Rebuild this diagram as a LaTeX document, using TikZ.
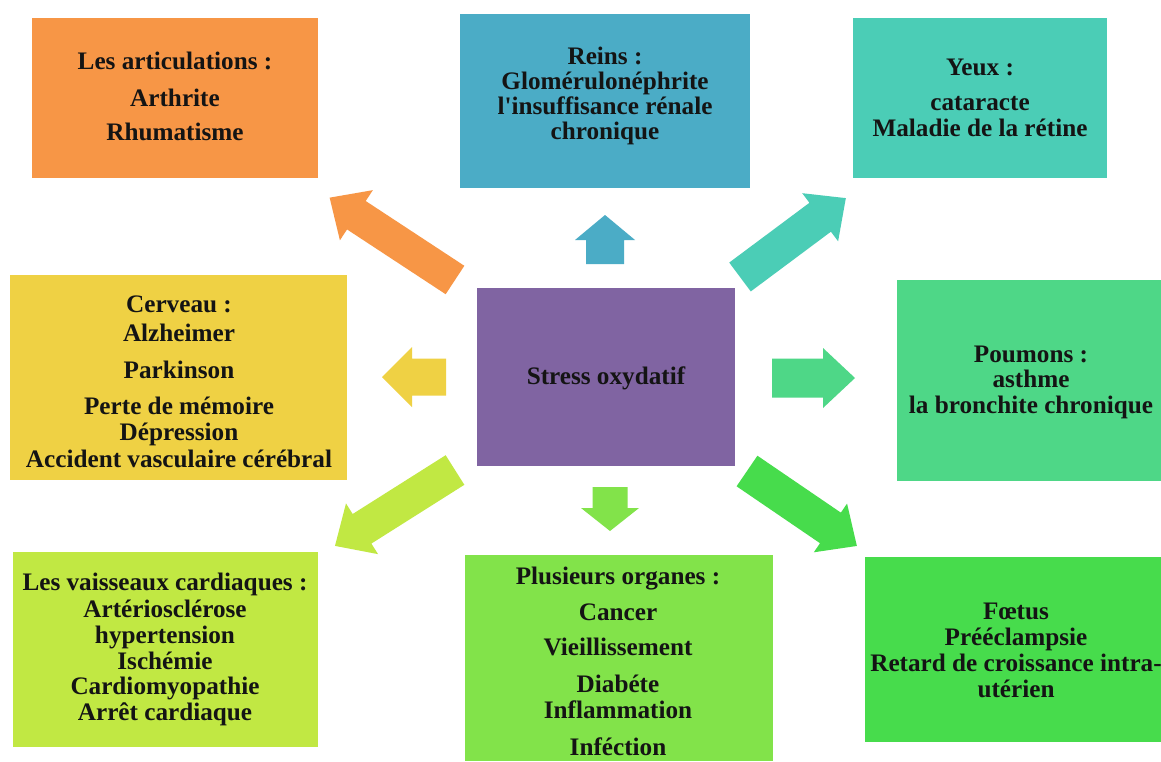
\documentclass[tikz,border=0pt]{standalone}
\usepackage{fontspec}
\setmainfont{Liberation Serif}[Ligatures=TeXOff]
\definecolor{cOrange}{HTML}{F79646}
\definecolor{cBlue}{HTML}{4BACC6}
\definecolor{cTeal}{HTML}{4BCDB6}
\definecolor{cYellow}{HTML}{EFD144}
\definecolor{cPurple}{HTML}{8064A2}
\definecolor{cSea}{HTML}{4ED787}
\definecolor{cLime}{HTML}{C1E843}
\definecolor{cLight}{HTML}{82E34A}
\definecolor{cGreen}{HTML}{47DC4C}
\definecolor{cText}{HTML}{141414}
\tikzset{
  box/.style={rectangle, draw=none, inner sep=0pt, outer sep=0pt},
  txt/.style={font=\fontsize{25.2}{26}\selectfont\bfseries, text=cText, inner sep=0pt, anchor=base},
}
% #1,#2 tail centre, #3 angle, #4 length, #5 shaft width, #6 head width, #7 head length, #8 colour
\newcommand\blkarrow[8]{%
  \begin{scope}[shift={(#1,#2)},rotate=#3]
    \fill[#8] (0,{-#5/2}) -- ({#4-#7},{-#5/2}) -- ({#4-#7},{-#6/2}) -- (#4,0)
      -- ({#4-#7},{#6/2}) -- ({#4-#7},{#5/2}) -- (0,{#5/2}) -- cycle;
  \end{scope}}
\begin{document}
\begin{tikzpicture}[x=1pt,y=-1pt]
\useasboundingbox (0,0) rectangle (1161,761);
\fill[white] (0,0) rectangle (1161,761);

% boxes
\node[box, fill=cOrange, minimum width=286, minimum height=160] (art) at (175,98) {};
\node[box, fill=cBlue, minimum width=290, minimum height=174] (rein) at (605,101) {};
\node[box, fill=cTeal, minimum width=254, minimum height=160] (yeux) at (980,98) {};
\node[box, fill=cYellow, minimum width=337, minimum height=205] (cer) at (178.5,377.5) {};
\node[box, fill=cPurple, minimum width=258, minimum height=178] (stress) at (606,377) {};
\node[box, fill=cSea, minimum width=264, minimum height=201] (poum) at (1029,380.5) {};
\node[box, fill=cLime, minimum width=305, minimum height=195] (vais) at (165.5,649.5) {};
\node[box, fill=cLight, minimum width=308, minimum height=206] (plus) at (619,658) {};
\node[box, fill=cGreen, minimum width=296, minimum height=185] (foet) at (1013,649.5) {};

% texts
\foreach \y/\t [count=\i] in {69/Les articulations :, 106/Arthrite, 140/Rhumatisme}
  \node[txt] (artT\i) at (175,\y) {\t};
\foreach \y/\t [count=\i] in {64/Reins :, 89/Glomérulonéphrite, 114/l'insuffisance rénale, 139/chronique}
  \node[txt] (reinT\i) at (605,\y) {\t};
\foreach \y/\t [count=\i] in {75/Yeux :, 110/cataracte, 136/Maladie de la rétine}
  \node[txt] (yeuxT\i) at (980,\y) {\t};
\foreach \y/\t [count=\i] in {312/Cerveau :, 341/Alzheimer, 378/Parkinson, 414/Perte de mémoire, 440/Dépression, 467/Accident vasculaire cérébral}
  \node[txt] (cerT\i) at (179,\y) {\t};
\node[txt] (stressT) at (606,384) {Stress oxydatif};
\foreach \y/\t [count=\i] in {362/Poumons :, 387/asthme, 413/la bronchite chronique}
  \node[txt] (poumT\i) at (1031,\y) {\t};
\foreach \y/\t [count=\i] in {590/Les vaisseaux cardiaques :, 617/Artériosclérose, 643/hypertension, 669/Ischémie, 694/Cardiomyopathie, 720/Arrêt cardiaque}
  \node[txt] (vaisT\i) at (165,\y) {\t};
\foreach \y/\t [count=\i] in {584/Plusieurs organes :, 620/Cancer, 655/Vieillissement, 692/Diabéte, 718/Inflammation, 755/Inféction}
  \node[txt] (plusT\i) at (618,\y) {\t};
\foreach \y/\t [count=\i] in {619/Fœtus, 645/Prééclampsie, 671/Retard de croissance intra-, 697/utérien}
  \node[txt] (foetT\i) at (1016,\y) {\t};

% block arrows
\blkarrow{455}{280}{146.7}{150}{34}{60}{32}{cOrange}
\blkarrow{605}{264}{90}{49}{38}{60}{25}{cBlue}
\blkarrow{740}{277}{36.7}{132}{36}{60}{32}{cTeal}
\blkarrow{446}{377}{180}{64}{37}{60}{30}{cYellow}
\blkarrow{772}{378}{0}{83}{39}{60}{32}{cSea}
\blkarrow{455}{470}{212.3}{142}{35}{60}{32}{cLime}
\blkarrow{610}{487}{270}{44}{35}{58}{23}{cLight}
\blkarrow{747}{471}{-34.3}{133}{37}{59}{32}{cGreen}
\end{tikzpicture}
\end{document}
